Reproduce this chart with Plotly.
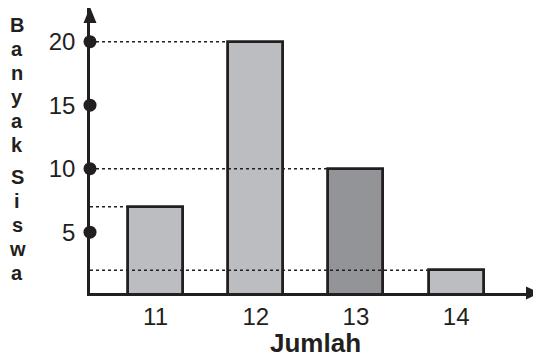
import plotly.graph_objects as go

categories = [11, 12, 13, 14]
counts = [7, 20, 10, 2]
bar_colors = ["#bcbdc0", "#bcbdc0", "#929497", "#bcbdc0"]
y_ticks = [5, 10, 15, 20]
x_title = "Jumlah"
y_title_words = ["Banyak", "Siswa"]

INK = "#231f20"
OFF = 8  # page body margin
W, H = 541 - OFF, 358 - OFF
ML, MR, MT, MB = 90 - OFF, 0, 0, 65
BAR_W = 0.55
X0 = 10.346
XR = [X0, 14.847]
YR = [0.213, 22.654]

fig = go.Figure()
fig.add_trace(go.Bar(
    x=categories, y=counts, width=BAR_W,
    marker=dict(color=bar_colors, line=dict(color=INK, width=2.8)),
    showlegend=False, hoverinfo="skip",
))

# dotted guide lines from y axis to bar tops
for c, v in zip(categories, counts):
    fig.add_trace(go.Scatter(
        x=[X0, c - BAR_W / 2], y=[v, v], mode="lines",
        line=dict(color=INK, width=1.6, dash="dot"),
        showlegend=False, hoverinfo="skip", cliponaxis=False,
    ))

# dots on the y axis
fig.add_trace(go.Scatter(
    x=[X0] * len(y_ticks), y=y_ticks, mode="markers",
    marker=dict(color=INK, size=13),
    showlegend=False, hoverinfo="skip", cliponaxis=False,
))

# arrowheads
fig.add_shape(type="path", xref="paper", yref="paper", xsizemode="pixel", ysizemode="pixel",
              xanchor=0, yanchor=1, path="M0,1 L-6.5,-15 L6.5,-15 Z",
              fillcolor=INK, line=dict(width=0))
fig.add_shape(type="path", xref="paper", yref="paper", xsizemode="pixel", ysizemode="pixel",
              xanchor=1, yanchor=0, path="M-1,0 L-15,6.5 L-15,-6.5 Z",
              fillcolor=INK, line=dict(width=0))

# stacked vertical y title (positions in page pixels)
plot_h = H - MT - MB
plot_w = W - ML - MR
def px_to_paper_x(px):
    return (px - OFF - ML) / plot_w
def px_to_paper_y(py):
    return (H - MB - (py - OFF)) / plot_h

starts = [25, 177]
steps = [24, 24]
for word, start, step in zip(y_title_words, starts, steps):
    for i, ch in enumerate(word):
        fig.add_annotation(
            text=ch, xref="paper", yref="paper",
            x=px_to_paper_x(17), y=px_to_paper_y(start + i * step),
            xanchor="center", yanchor="middle", showarrow=False,
            font=dict(family="Liberation Sans, Arial", size=20, color=INK, weight="bold"),
        )

fig.update_layout(
    width=W, height=H,
    margin=dict(l=ML, r=MR, t=MT, b=MB),
    plot_bgcolor="white", paper_bgcolor="white",
    bargap=0,
    xaxis=dict(
        range=XR, tickvals=categories, ticktext=[str(c) for c in categories],
        showgrid=False, zeroline=False,
        showline=True, linecolor=INK, linewidth=2.5,
        ticks="",
        tickfont=dict(family="Liberation Sans, Arial", size=24, color=INK),
        title=dict(text=x_title, standoff=9,
                   font=dict(family="Liberation Sans, Arial", size=26, color=INK, weight="bold")),
    ),
    yaxis=dict(
        range=YR, tickvals=y_ticks, ticktext=[str(v) for v in y_ticks],
        showgrid=False, zeroline=False,
        showline=True, linecolor=INK, linewidth=2.5,
        ticks="outside", ticklen=7, tickcolor="rgba(0,0,0,0)",
        tickfont=dict(family="Liberation Sans, Arial", size=24, color=INK),
    ),
)

fig.write_html("out.html")
